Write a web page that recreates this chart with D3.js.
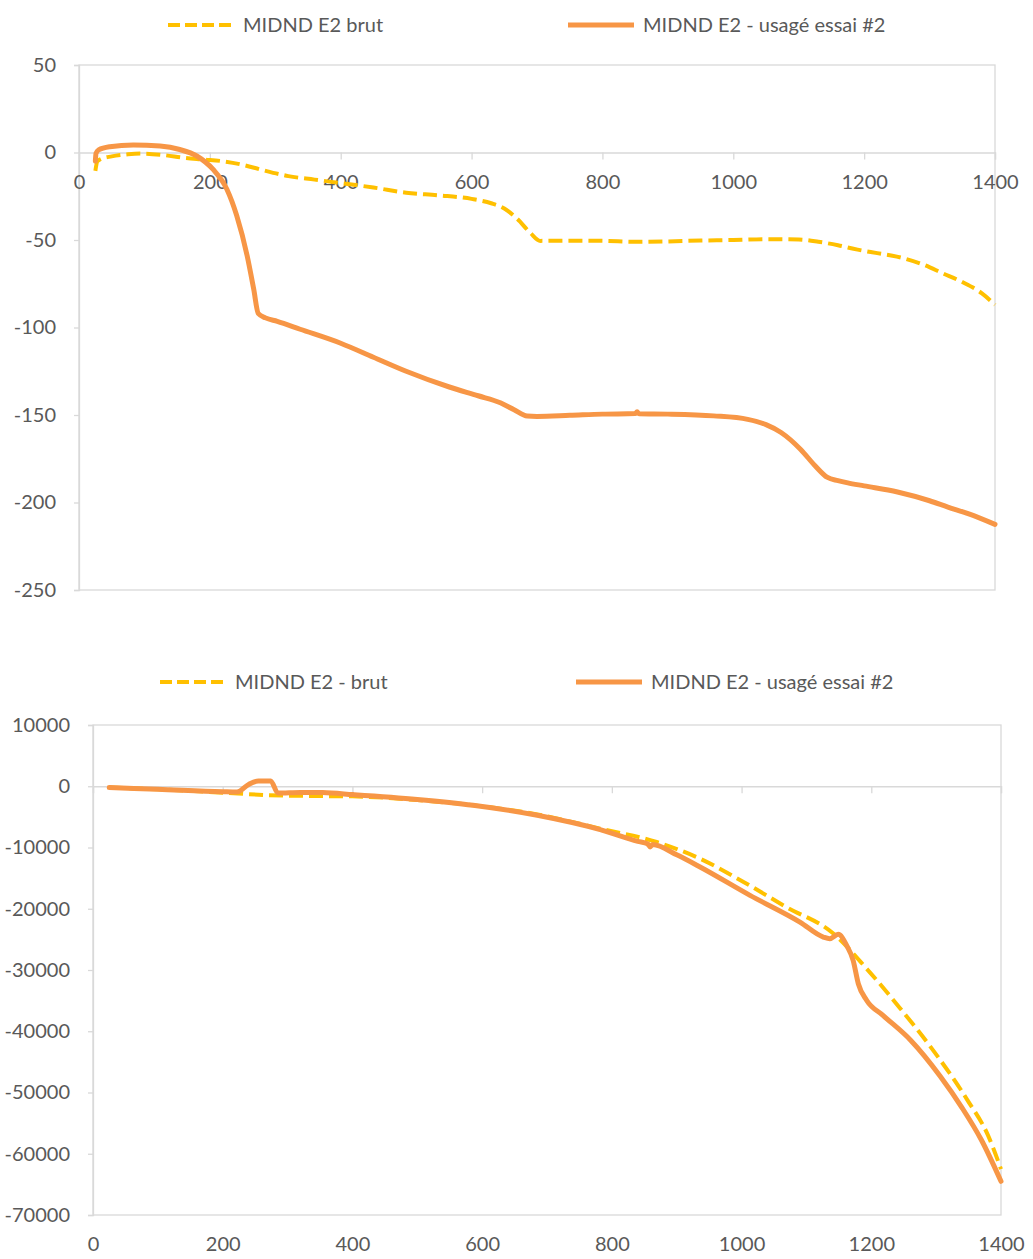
<!DOCTYPE html>
<html>
<head>
<meta charset="utf-8">
<script src="https://cdn.jsdelivr.net/npm/d3@7"></script>
<style>
  body { margin: 0; background: #fff; }
  text { font-family: Lato, "Open Sans", sans-serif; fill: #595959; }
</style>
</head>
<body>
<div id="chart"></div>
<script>
// ---- top chart data ----
const topTitles = ["MIDND E2 brut", "MIDND E2 - usagé essai #2"];
const topXTicks = [0, 200, 400, 600, 800, 1000, 1200, 1400];
const topYTicks = [50, 0, -50, -100, -150, -200, -250];

const topBrutX = [25, 28, 32, 50, 75, 95, 130, 160, 190, 220, 250, 280, 320, 360, 400, 450, 500, 550, 600, 630, 650, 670, 690, 705, 750, 800, 850, 900, 950, 1000, 1050, 1100, 1130, 1160, 1190, 1220, 1250, 1290, 1320, 1350, 1380, 1400];
const topBrutY = [-10.5, -5, -4, -2.2, -1, -0.6, -1.5, -3, -4, -5, -7, -10, -13.5, -15.5, -17.5, -20, -23, -24.5, -26.5, -29, -32, -38, -46, -50.5, -50.4, -50.5, -51, -50.8, -50.3, -50, -49.5, -49.7, -51, -53, -55.5, -57.5, -59.5, -64, -69, -74, -80.5, -87];

const topUsageX = [25, 26, 30, 47, 83, 124, 154, 180, 205, 226, 241, 257, 267, 274, 285, 303, 338, 400, 450, 500, 566, 610, 644, 665, 685, 700, 750, 800, 850, 853, 856, 900, 970, 1022, 1050, 1073, 1103, 1125, 1144, 1160, 1175, 1200, 1251, 1300, 1328, 1360, 1400];
const topUsageY = [-5, -0.5, 1.5, 3.3, 4.3, 3.7, 1.7, -2, -9.7, -21, -36, -59, -78, -92, -94.5, -96.5, -101, -109, -117, -125, -134, -139, -143, -147, -150.6, -150.8, -150.2, -149.5, -149.2, -148.2, -149.3, -149.5, -150.5, -152.5, -155.5, -160, -169.7, -179, -185.7, -187.5, -188.8, -190.5, -194, -199, -202.6, -206.5, -212.5];

// ---- bottom chart data ----
const botTitles = ["MIDND E2 - brut", "MIDND E2 - usagé essai #2"];
const botXTicks = [0, 200, 400, 600, 800, 1000, 1200, 1400];
const botYTicks = [10000, 0, -10000, -20000, -30000, -40000, -50000, -60000, -70000];

const botBrutX = [25, 100, 200, 270, 350, 400, 500, 586, 685, 782, 869, 936, 1003, 1069, 1141, 1193, 1244, 1296, 1348, 1380, 1400];
const botBrutY = [-200, -500, -1050, -1450, -1600, -1650, -2250, -3100, -4600, -6920, -9100, -11820, -15630, -19720, -24000, -29800, -36200, -43200, -51200, -57000, -62500];

const botUsageX = [25, 100, 200, 222, 240, 255, 274, 285, 320, 354, 401, 500, 586, 685, 782, 840, 855, 859, 863, 900, 936, 1013, 1090, 1126, 1136, 1149, 1162, 1172, 1180, 1193, 1218, 1261, 1306, 1340, 1370, 1400];
const botUsageY = [-220, -500, -900, -950, 300, 870, 870, -1100, -1000, -1040, -1360, -2150, -3100, -4740, -7080, -9000, -9400, -9900, -9500, -11200, -13180, -17810, -22170, -24620, -24890, -24180, -25980, -28430, -32240, -34970, -37400, -41500, -47300, -52500, -57800, -64500];

const brutColor = "#FFC000";
const usageColor = "#F79646";

// plain hyphen for negatives, like the spreadsheet does
const plainNum = d => String(d);

class LineVis {

    constructor(_config, _series) {
        this.config = {
            parent: _config.parent,
            left: _config.left,
            right: _config.right,
            top: _config.top,
            bottom: _config.bottom,
            xTicks: _config.xTicks,
            yTicks: _config.yTicks,
            labelsAtBottom: _config.labelsAtBottom,
            legendY: _config.legendY,
            legendX: _config.legendX,
            titles: _config.titles,
        }
        this.series = _series;
        this.initVis();
    }

    initVis() {
        let vis = this;
        const c = vis.config;

        vis.x = d3.scaleLinear()
            .domain(d3.extent(c.xTicks))
            .range([c.left, c.right]);
        vis.y = d3.scaleLinear()
            .domain(d3.extent(c.yTicks))
            .range([c.bottom, c.top]);

        vis.g = c.parent.append("g");

        // plot area border
        vis.g.append("rect")
            .attr("x", c.left)
            .attr("y", c.top)
            .attr("width", c.right - c.left)
            .attr("height", c.bottom - c.top)
            .attr("fill", "none")
            .attr("stroke", "#d9d9d9")
            .attr("stroke-width", 1.3);

        // y axis
        const yAxis = vis.g.append("g")
            .attr("transform", `translate(${c.left},0)`)
            .call(d3.axisLeft(vis.y).tickValues(c.yTicks).tickSize(5).tickPadding(18).tickFormat(plainNum));

        // x axis line at zero
        const xAxis = vis.g.append("g")
            .attr("transform", `translate(0,${vis.y(0)})`)
            .call(d3.axisBottom(vis.x).tickValues(c.xTicks).tickSize(7).tickPadding(15)
                .tickFormat(c.labelsAtBottom ? "" : plainNum));

        let axes = [yAxis, xAxis];
        if (c.labelsAtBottom) {
            const xLabels = vis.g.append("g")
                .attr("transform", `translate(0,${c.bottom})`)
                .call(d3.axisBottom(vis.x).tickValues(c.xTicks).tickSize(0).tickPadding(22).tickFormat(plainNum));
            xLabels.select(".domain").remove();
            axes.push(xLabels);
        }
        axes.forEach(a => {
            a.selectAll("path, line").attr("stroke", "#d9d9d9").attr("stroke-width", 1.3);
            a.selectAll("text").attr("fill", "#595959").style("font-size", "20px");
        });

        vis.renderLines();
        vis.renderLegend();
    }

    renderLines() {
        let vis = this;
        const line = d3.line()
            .x(d => vis.x(d[0]))
            .y(d => vis.y(d[1]))
            .curve(d3.curveMonotoneX);

        vis.series.forEach(s => {
            const pts = s.xs.map((xv, i) => [xv, s.ys[i]]);
            vis.g.append("path")
                .attr("d", line(pts))
                .attr("fill", "none")
                .attr("stroke", s.color)
                .attr("stroke-width", s.width)
                .attr("stroke-dasharray", s.dash)
                .attr("stroke-linejoin", "round")
                .attr("stroke-linecap", s.dash ? "butt" : "round");
        });
    }

    renderLegend() {
        let vis = this;
        const c = vis.config;
        vis.series.forEach((s, i) => {
            const lx = c.legendX[i];
            vis.g.append("line")
                .attr("x1", lx).attr("x2", lx + 66)
                .attr("y1", c.legendY).attr("y2", c.legendY)
                .attr("stroke", s.color)
                .attr("stroke-width", s.width)
                .attr("stroke-dasharray", s.dash ? "12,5" : null);
            vis.g.append("text")
                .attr("x", lx + 75)
                .attr("y", c.legendY)
                .attr("dy", "0.35em")
                .style("font-size", "20px")
                .text(c.titles[i]);
        });
    }
}

const svg = d3.select("#chart").append("svg")
    .attr("width", 1033)
    .attr("height", 1259);

new LineVis({
    parent: svg, left: 79, right: 995, top: 65, bottom: 590,
    xTicks: topXTicks, yTicks: topYTicks, labelsAtBottom: false,
    legendY: 25, legendX: [168, 568], titles: topTitles
}, [
    { xs: topBrutX, ys: topBrutY, color: brutColor, width: 4, dash: "14,6" },
    { xs: topUsageX, ys: topUsageY, color: usageColor, width: 5, dash: null }
]);

new LineVis({
    parent: svg, left: 93, right: 1001, top: 725, bottom: 1215,
    xTicks: botXTicks, yTicks: botYTicks, labelsAtBottom: true,
    legendY: 682, legendX: [160, 576], titles: botTitles
}, [
    { xs: botBrutX, ys: botBrutY, color: brutColor, width: 4, dash: "14,6" },
    { xs: botUsageX, ys: botUsageY, color: usageColor, width: 5, dash: null }
]);
</script>
</body>
</html>
